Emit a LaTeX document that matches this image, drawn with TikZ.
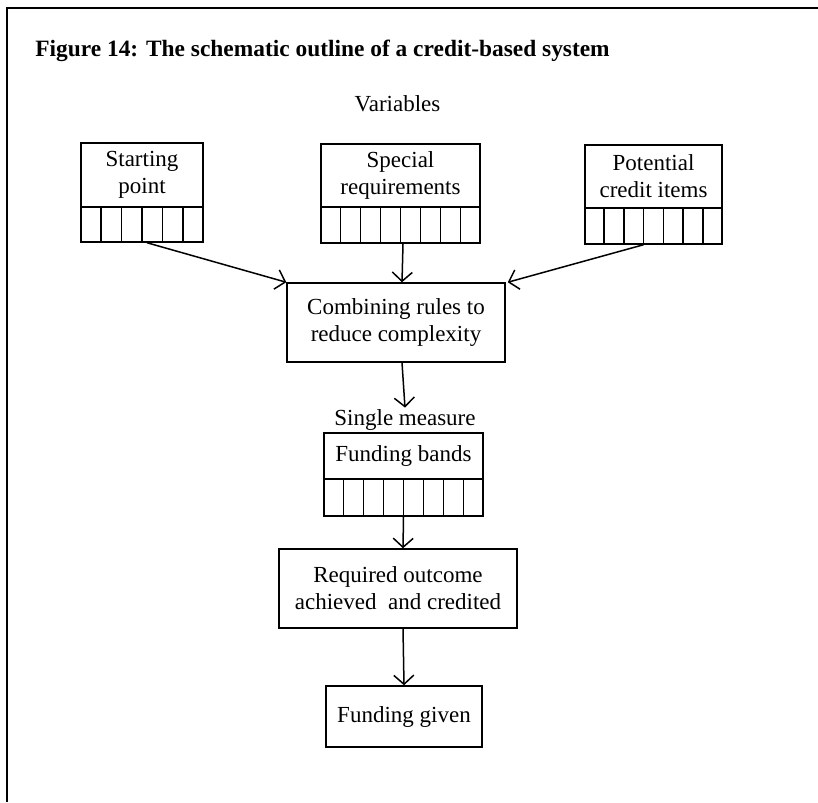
\documentclass[tikz,border=0pt]{standalone}
\usepackage{fontspec}
\setmainfont{Liberation Serif}
\usetikzlibrary{arrows.meta,calc}
\begin{document}
\begin{tikzpicture}[x=0.5pt,y=-0.5pt,
  box/.style={draw, line width=0.75pt, inner sep=0pt, align=center, font=\fontsize{11.5}{13.5}\selectfont},
  cellrow/.style={draw, line width=0.75pt, inner sep=0pt},
  conn/.style={line width=0.75pt, -{Straight Barb[length=4.5pt,width=10pt,line width=0.75pt]}},
  framel/.style={line width=1pt},
  lbl/.style={font=\fontsize{11.5}{13.5}\selectfont, inner sep=0.5pt}
]
\useasboundingbox (0,0) rectangle (818,802);

% frame (top and left only)
\coordinate (ftl) at (7,8);
\coordinate (ftr) at (818,8);
\coordinate (fbl) at (7,802);
\draw[framel] (ftr) -- (ftl) -- (fbl);

% title and heading
\node[anchor=base west, inner sep=0pt, font=\fontsize{11.7}{14}\selectfont\bfseries] (title) at (35,57)
  {Figure 14: The schematic outline of a credit-based system};
\node[lbl, anchor=base] (var) at (397.5,112) {Variables};

% variable boxes
\node[box, minimum width=61pt, minimum height=32pt] (sp) at (142,175) {Starting\\point};
\node[cellrow, minimum width=61pt, minimum height=17.5pt] (spc) at (142,224.5) {};

\node[box, minimum width=79.5pt, minimum height=31.5pt] (sr) at (400.5,175.5) {Special\\requirements};
\node[cellrow, minimum width=79.5pt, minimum height=18pt] (src) at (400.5,225) {};

\node[box, minimum width=68.5pt, minimum height=31.5pt] (pc) at (653.5,176.5) {Potential\\credit items};
\node[cellrow, minimum width=68.5pt, minimum height=18pt] (pcc) at (653.5,226) {};

% combining
\node[box, minimum width=109pt, minimum height=39.5pt] (cr) at (396,322.5) {Combining rules to\\reduce complexity};

% single measure
\node[lbl, anchor=base] (sm) at (405,425) {Single measure};
\node[box, minimum width=79.5pt, minimum height=23pt] (fb) at (403.5,456) {Funding bands};
\node[cellrow, minimum width=79.5pt, minimum height=18.5pt] (fbc) at (403.5,497.5) {};

% outcome
\node[box, minimum width=119pt, minimum height=39.5pt] (ro) at (398,588.5) {Required outcome\\achieved\ \ and credited};
\node[box, minimum width=78pt, minimum height=30.5pt] (fg) at (404,716.5) {Funding given};

% cell dividers
\foreach \n/\k in {spc/6, src/8, pcc/7, fbc/8} {
  \pgfmathtruncatemacro\m{\k-1}
  \foreach \i in {1,...,\m} {
    \pgfmathsetmacro\f{\i/\k}
    \draw[line width=0.75pt] ($(\n.south west)!\f!(\n.south east)$) -- ($(\n.north west)!\f!(\n.north east)$);
  }
}

% connectors
\draw[conn] ([xshift=2.5pt]spc.south) -- (cr.north west);
\draw[conn] ([xshift=1.25pt]src.south) -- ([xshift=3pt]cr.north);
\draw[conn] ([xshift=-5pt]pcc.south) -- ([xshift=1pt]cr.north east);
\draw[conn] ([xshift=3pt]cr.south) -- (sm.north);
\draw[conn] (fbc.south) -- ([xshift=2.5pt]ro.north);
\draw[conn] ([xshift=2.5pt]ro.south) -- (fg.north);
\end{tikzpicture}
\end{document}
